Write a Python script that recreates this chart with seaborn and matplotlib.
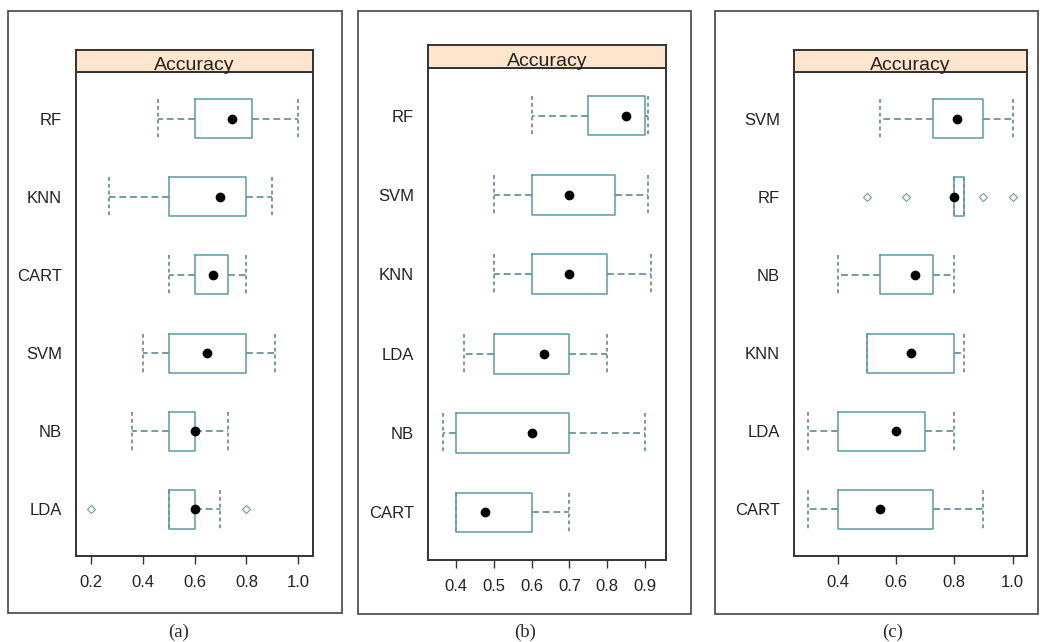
import matplotlib
matplotlib.use("Agg")
import matplotlib.pyplot as plt
from matplotlib.patches import Rectangle
import pandas as pd
import seaborn as sns

models_a = ["RF", "KNN", "CART", "SVM", "NB", "LDA"]
low_a = [0.46, 0.27, 0.50, 0.40, 0.36, 0.50]
q1_a = [0.60, 0.50, 0.60, 0.50, 0.50, 0.50]
med_a = [0.745, 0.70, 0.67, 0.65, 0.60, 0.60]
q3_a = [0.82, 0.80, 0.73, 0.80, 0.60, 0.60]
high_a = [1.00, 0.90, 0.80, 0.91, 0.73, 0.70]
out_a = [[], [], [], [], [], [0.20, 0.80]]
ticks_a = [0.2, 0.4, 0.6, 0.8, 1.0]

# panel (b)
models_b = ["RF", "SVM", "KNN", "LDA", "NB", "CART"]
low_b = [0.60, 0.50, 0.50, 0.42, 0.364, 0.40]
q1_b = [0.75, 0.60, 0.60, 0.50, 0.40, 0.40]
med_b = [0.85, 0.70, 0.70, 0.633, 0.60, 0.475]
q3_b = [0.90, 0.82, 0.80, 0.70, 0.70, 0.60]
high_b = [0.909, 0.909, 0.917, 0.80, 0.90, 0.70]
out_b = [[], [], [], [], [], []]
ticks_b = [0.4, 0.5, 0.6, 0.7, 0.8, 0.9]

# panel (c)
models_c = ["SVM", "RF", "NB", "KNN", "LDA", "CART"]
low_c = [0.545, 0.80, 0.40, 0.50, 0.30, 0.30]
q1_c = [0.727, 0.80, 0.545, 0.50, 0.40, 0.40]
med_c = [0.808, 0.80, 0.667, 0.65, 0.60, 0.545]
q3_c = [0.90, 0.833, 0.727, 0.80, 0.70, 0.727]
high_c = [1.00, 0.833, 0.80, 0.833, 0.80, 0.90]
out_c = [[], [0.50, 0.636, 0.90, 1.00], [], [], [], []]
ticks_c = [0.4, 0.6, 0.8, 1.0]

W, H = 1040, 642
BOX = "#5b9aa6"
WHISK = "#4f808c"
EDGE = "#333333"

sns.set_style("white")
plt.rcParams["font.family"] = ["Liberation Sans", "DejaVu Sans"]


def fig_rect(left, top, right, bottom):
    # pixel box (y from top) -> figure fraction rect
    return [left / W, 1 - bottom / H, (right - left) / W, (bottom - top) / H]


def long_table(models, low, q1, med, q3, high, outliers):
    # spread each summary into samples so seaborn finds the same quartiles
    rows = []
    for m, lo, a, md, b, hi, outs in zip(models, low, q1, med, q3, high, outliers):
        below = [v for v in outs if v < md]
        above = [v for v in outs if v > md]
        vals = below + [lo] + [a] * 20 + [md] * 5 + [b] * 20 + [hi] + above
        rows += [(m, v) for v in vals]
    return pd.DataFrame(rows, columns=["model", "accuracy"])


def draw_panel(fig, frame, axes_box, strip_top, cap_x, caption,
               models, low, q1, med, q3, high, outliers, ticks):
    fx, fy, fw, fh = fig_rect(*frame)
    fig.add_artist(Rectangle((fx, fy), fw, fh, transform=fig.transFigure,
                             fill=False, edgecolor="#444444", linewidth=1.2))

    ax = fig.add_axes(fig_rect(*axes_box))
    data = long_table(models, low, q1, med, q3, high, outliers)
    sns.boxplot(data=data, x="accuracy", y="model", order=models, ax=ax,
                whis=1.5, width=0.5, fill=False, color=BOX, linewidth=1.1,
                capwidths=0.5,
                boxprops=dict(zorder=3),
                whiskerprops=dict(color=WHISK, linestyle=(0, (4.5, 2.5)), zorder=1.5),
                capprops=dict(color=WHISK, linestyle=(0, (2.5, 2)), zorder=1.5),
                medianprops=dict(visible=False),
                flierprops=dict(marker="D", markersize=3.6, markerfacecolor="white",
                                markeredgecolor="#6f9ba6", markeredgewidth=0.8))
    meds = pd.DataFrame({"model": models, "accuracy": med})
    sns.stripplot(data=meds, x="accuracy", y="model", order=models, jitter=False,
                  color="black", size=7, ax=ax, zorder=5)

    everything = low + high + [v for outs in outliers for v in outs]
    lo, hi = min(everything), max(everything)
    pad = 0.07 * (hi - lo)
    ax.set_xlim(lo - pad, hi + pad)
    ax.set_ylim(len(models) - 0.4, -0.6)
    ax.set_xticks(ticks)
    ax.set_xticklabels([f"{t:.1f}" for t in ticks])
    ax.set_xlabel("")
    ax.set_ylabel("")
    ax.tick_params(axis="x", bottom=True, length=6, width=1, color=EDGE,
                   direction="out", pad=8, labelsize=12, labelcolor="#222222")
    ax.tick_params(axis="y", left=False, length=0, pad=10, labelsize=12,
                   labelcolor="#222222")
    for s in ax.spines.values():
        s.set_visible(True)
        s.set_color(EDGE)
        s.set_linewidth(1.4)

    left, top, right, bottom = axes_box
    sax = fig.add_axes(fig_rect(left, strip_top, right, top))
    sax.set_facecolor("#ffe5cc")
    sax.set_xticks([])
    sax.set_yticks([])
    for s in sax.spines.values():
        s.set_visible(True)
        s.set_color(EDGE)
        s.set_linewidth(1.4)
    sax.text(0.5, 0.1, "Accuracy", ha="center", va="baseline", fontsize=14,
             color="#222222", transform=sax.transAxes)

    fig.text(cap_x / W, 1 - 632 / H, caption, ha="center", va="center",
             family=["Liberation Serif", "DejaVu Serif"], fontsize=13.5)


fig = plt.figure(figsize=(W / 100, H / 100), dpi=100)
fig.patch.set_facecolor("white")

draw_panel(fig, (8, 11, 342, 613), (76, 72, 313, 556), 50, 179, "(a)",
           models_a, low_a, q1_a, med_a, q3_a, high_a, out_a, ticks_a)
draw_panel(fig, (358, 11, 691, 614), (428, 68, 666, 560), 45, 525, "(b)",
           models_b, low_b, q1_b, med_b, q3_b, high_b, out_b, ticks_b)
draw_panel(fig, (715, 11, 1038, 614), (794, 72, 1027, 556), 50, 893, "(c)",
           models_c, low_c, q1_c, med_c, q3_c, high_c, out_c, ticks_c)

fig.savefig("out.png", dpi=100)
